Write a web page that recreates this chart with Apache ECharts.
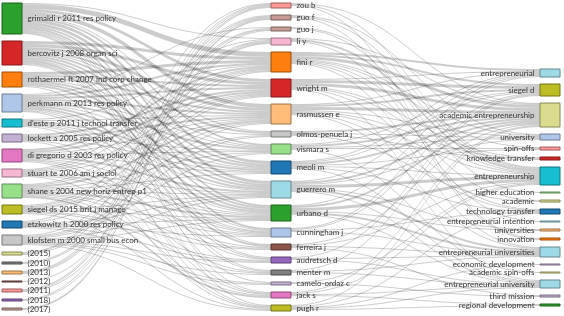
<!DOCTYPE html>
<html><head><meta charset="utf-8">
<script src="https://cdn.jsdelivr.net/npm/echarts@6/dist/echarts.min.js"></script>
<style>html,body{margin:0;padding:0;background:#fff}#c{width:564px;height:316px}</style>
</head><body><div id="c"></div>
<script>
// ---- data ----
const references = ['grimaldi r 2011 res policy','bercovitz j 2008 organ sci','rothaermel ft 2007 ind corp change','perkmann m 2013 res policy',"d'este p 2011 j technol transfer",'lockett a 2005 res policy','di gregorio d 2003 res policy','stuart te 2006 am j sociol','shane s 2004 new horiz entrep p1','siegel ds 2015 brit j manage','etzkowitz h 2000 res policy','klofsten m 2000 small bus econ','(2015)','(2010)','(2013)','(2012)','(2011)','(2018)','(2017)'];
const referenceCounts = [31,24,15,18,8,8,13,8,14,9,7,10,3,2,3,1,3,2,2];
const authors = ['zou b','guo f','guo j','li y','fini r','wright m','rasmussen e','olmos-penuela j','vismara s','meoli m','guerrero m','urbano d','cunningham j','ferreira j','audretsch d','menter m','camelo-ordaz c','jack s','pugh r'];
const authorCounts = [5,5,4,7,20,18,20,6,10,13,17,16,9,6,6,5,3,6,6];
const keywords = ['entrepreneurial','siegel d','academic entrepreneurship','university','spin-offs','knowledge transfer','entrepreneurship','higher education','academic','technology transfer','entrepreneurial intention','universities','innovation','entrepreneurial universities','economic development','academic spin-offs','entrepreneurial university','third mission','regional development'];
const keywordCounts = [8,12,24,6,3,3,18,1,2,5,1,2,2,10,1,1,8,2,2];
// [reference index, author index, value]
const refAuthorLinks = [
[0,4,5],[0,5,3],[0,6,4],[0,8,2],[0,9,3],[0,10,3],[0,11,2],[0,12,2],[0,13,1],[0,14,1],[0,15,1],[0,17,1],[0,18,1],[0,3,1],[0,7,1],
[1,4,3],[1,5,3],[1,6,3],[1,7,2],[1,8,1],[1,9,2],[1,10,2],[1,11,2],[1,12,1],[1,13,2],[1,14,1],[1,15,1],[1,16,1],
[2,4,3],[2,5,2],[2,6,2],[2,8,1],[2,9,2],[2,10,2],[2,11,2],[2,17,1],
[3,4,2],[3,5,2],[3,6,2],[3,7,1],[3,8,2],[3,9,1],[3,10,2],[3,11,2],[3,12,1],[3,14,1],[3,18,1],[3,2,1],
[4,4,1],[4,6,1],[4,9,2],[4,10,1],[4,11,1],[4,12,1],[4,17,1],
[5,5,2],[5,6,2],[5,8,1],[5,9,1],[5,12,1],[5,18,1],
[6,4,2],[6,5,2],[6,6,1],[6,8,1],[6,9,1],[6,10,2],[6,11,1],[6,13,1],[6,15,1],[6,18,1],
[7,4,1],[7,5,1],[7,6,1],[7,10,1],[7,11,1],[7,12,1],[7,17,1],[7,3,1],
[8,4,1],[8,5,1],[8,6,2],[8,8,1],[8,9,1],[8,10,1],[8,11,2],[8,12,1],[8,13,1],[8,15,1],[8,17,2],
[9,4,1],[9,5,1],[9,6,1],[9,7,1],[9,10,1],[9,11,1],[9,13,1],[9,14,1],[9,18,1],
[10,5,1],[10,10,1],[10,11,1],[10,12,1],[10,14,1],[10,16,1],[10,0,1],
[11,4,1],[11,6,1],[11,7,1],[11,8,1],[11,10,1],[11,11,1],[11,14,1],[11,15,1],[11,16,1],[11,18,1],
[12,0,1],[12,1,1],[12,3,1],
[13,2,1],[13,3,1],
[14,0,1],[14,1,1],[14,2,1],
[15,3,1],
[16,0,1],[16,1,1],[16,3,1],
[17,2,1],[17,0,1],
[18,1,2]
];
// [author index, keyword index, value]
const authorKeywordLinks = [
[4,0,2],[5,0,1],[6,0,1],[10,0,1],[11,0,1],[9,0,1],[12,0,1],
[5,1,3],[4,1,2],[6,1,2],[12,1,1],[14,1,1],[15,1,1],[9,1,1],[8,1,1],
[4,2,3],[5,2,3],[6,2,3],[7,2,2],[8,2,2],[9,2,2],[10,2,2],[11,2,2],[13,2,1],[17,2,1],[18,2,1],[3,2,1],[0,2,1],
[6,3,1],[4,3,1],[8,3,1],[10,3,1],[7,3,1],[1,3,1],
[8,4,1],[9,4,1],[4,4,1],
[6,5,1],[5,5,1],[7,5,1],
[10,6,3],[11,6,3],[0,6,1],[1,6,1],[2,6,1],[3,6,2],[4,6,1],[6,6,1],[13,6,1],[17,6,1],[16,6,1],[9,6,1],[5,6,1],
[2,7,1],
[4,8,1],[7,8,1],
[9,9,1],[6,9,1],[5,9,1],[12,9,1],[18,9,1],
[3,10,1],
[10,11,1],[11,11,1],
[0,12,1],[1,12,1],
[10,13,2],[11,13,2],[12,13,1],[14,13,1],[15,13,1],[6,13,1],[4,13,1],[13,13,1],
[18,14,1],
[8,15,1],
[10,16,1],[11,16,1],[14,16,1],[15,16,1],[17,16,1],[18,16,1],[5,16,1],[9,16,1],
[16,17,1],[13,17,1],
[18,18,1],[17,18,1]
];
// empty space above the keyword column (in value units)
const keywordColumnOffset = 59;

// ---- styles ----
const referenceColors = ['#2ca02c','#d62728','#ff7f0e','#aec7e8','#17becf','#c5b0d5','#e377c2','#f7b6d2','#98df8a','#bcbd22','#1f77b4','#c7c7c7','#dbdb8d','#7f7f7f','#ffbb78','#8c564b','#ff9896','#9467bd','#c49c94'];
const authorColors = ['#ff9896','#c49c94','#c49c94','#f7b6d2','#ff7f0e','#d62728','#ffbb78','#c7c7c7','#98df8a','#1f77b4','#9edae5','#2ca02c','#aec7e8','#8c564b','#9467bd','#7f7f7f','#c5b0d5','#e377c2','#bcbd22'];
const keywordColors = ['#9edae5','#bcbd22','#dbdb8d','#aec7e8','#ff9896','#d62728','#17becf','#98df8a','#dbdb8d','#1f77b4','#9edae5','#ffbb78','#ff7f0e','#9edae5','#c5b0d5','#dbdb8d','#9edae5','#c5b0d5','#2ca02c'];

function darker(hex, k) {
  const n = parseInt(hex.slice(1), 16);
  const r = (n >> 16) & 255, g = (n >> 8) & 255, b = n & 255;
  return 'rgb(' + Math.round(r * k) + ',' + Math.round(g * k) + ',' + Math.round(b * k) + ')';
}
function makeNodes(names, counts, colors, depth) {
  return names.map((n, i) => ({
    name: n, value: counts[i], depth: depth,
    itemStyle: { color: colors[i], borderColor: darker(colors[i], 0.62), borderWidth: 1 }
  }));
}
const nodes = [].concat(
  makeNodes(references, referenceCounts, referenceColors, 0),
  makeNodes(authors, authorCounts, authorColors, 1),
  [{ name: '\u200b', value: keywordColumnOffset, depth: 2,
     itemStyle: { color: 'rgba(0,0,0,0)', borderWidth: 0 }, label: { show: false } }],
  makeNodes(keywords, keywordCounts, keywordColors, 2)
);
const links = refAuthorLinks.map(l => ({ source: references[l[0]], target: authors[l[1]], value: l[2] }))
  .concat(authorKeywordLinks.map(l => ({ source: authors[l[0]], target: keywords[l[1]], value: l[2] })));

const chart = echarts.init(document.getElementById('c'));
chart.setOption({
  animation: false,
  series: [{
    type: 'sankey',
    left: 2, right: 4, top: 3, bottom: 5,
    nodeWidth: 20, nodeGap: 7,
    layoutIterations: 0,
    draggable: false,
    emphasis: { disabled: true },
    data: nodes,
    links: links,
    label: { fontFamily: 'Lato', fontSize: 8, color: '#333', distance: 5 },
    levels: [{ depth: 2, label: { position: 'left' } }],
    lineStyle: { color: '#000', opacity: 0.2, curveness: 0.5 }
  }]
});
</script></body></html>
